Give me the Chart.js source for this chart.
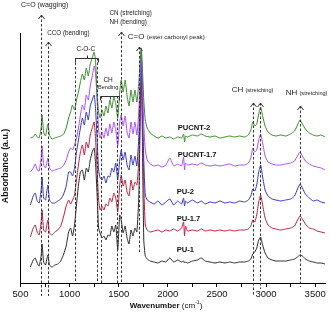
<!DOCTYPE html>
<html>
<head>
<meta charset="utf-8">
<script src="https://cdn.jsdelivr.net/npm/chart.js@4.4.1/dist/chart.umd.min.js"></script>
<style>
  html, body { margin: 0; padding: 0; background: #fff; }
  canvas { display: block; }
</style>
</head>
<body>
<canvas id="ftirChart" width="331" height="323"></canvas>
<script>
// wavenumber grid (cm-1), shared by all spectra
const wavenumber = [
  600, 630, 650, 670, 690, 710, 720, 735, 755, 770,
  780, 795, 820, 850, 880, 910, 940, 965, 990, 1010,
  1030, 1050, 1070, 1090, 1110, 1130, 1150, 1170, 1190, 1210,
  1230, 1250, 1265, 1280, 1295, 1310, 1330, 1350, 1370, 1390,
  1410, 1430, 1450, 1470, 1490, 1510, 1525, 1545, 1565, 1585,
  1605, 1625, 1645, 1665, 1685, 1705, 1720, 1730, 1742, 1755,
  1770, 1790, 1820, 1860, 1900, 1940, 1980, 2020, 2060, 2100,
  2140, 2160, 2170, 2180, 2200, 2250, 2300, 2340, 2380, 2430,
  2480, 2530, 2580, 2630, 2680, 2730, 2780, 2820, 2845, 2865,
  2885, 2905, 2925, 2945, 2965, 2990, 3020, 3060, 3100, 3150,
  3200, 3250, 3290, 3320, 3345, 3370, 3400, 3440, 3480, 3520,
  3560, 3600
];

// absorbance (a.u., stacked offsets as in the figure)
const pucnt2 = [
  145, 146, 149, 146, 145, 155, 168, 151, 147, 155,
  159, 148, 144, 145, 146, 147, 149, 155, 165, 171,
  178, 173, 183, 191, 201, 209, 203, 215, 207, 219,
  225, 231, 221, 188, 171, 165, 173, 167, 177, 170,
  183, 175, 186, 179, 165, 191, 203, 191, 203, 187,
  177, 193, 181, 193, 181, 201, 225, 235, 213, 183,
  163, 155, 150, 147, 145, 147, 145, 146, 144, 146,
  145, 149, 141, 147, 146, 148, 147, 149, 147, 146,
  147, 145, 146, 147, 146, 147, 146, 148, 153, 161,
  157, 159, 169, 176, 167, 157, 151, 148, 147, 148,
  147, 149, 152, 158, 163, 159, 154, 150, 148, 147,
  148, 146
];
const pucnt17 = [
  111, 115, 119, 113, 112, 125, 137, 118, 115, 121,
  125, 115, 112, 113, 114, 115, 118, 123, 131, 135,
  133, 138, 145, 155, 168, 178, 173, 188, 183, 197,
  207, 217, 209, 183, 153, 145, 151, 145, 155, 147,
  159, 150, 161, 153, 137, 161, 168, 157, 167, 151,
  145, 161, 149, 161, 148, 173, 211, 229, 198, 158,
  133, 123, 119, 117, 118, 116, 118, 125, 117, 119,
  117, 126, 113, 120, 118, 119, 118, 120, 118, 117,
  118, 117, 118, 119, 117, 118, 118, 120, 125, 135,
  131, 133, 143, 149, 140, 127, 121, 119, 118, 118,
  119, 120, 122, 127, 131, 127, 122, 119, 117, 116,
  115, 113
];
const pu2 = [
  78, 87, 90, 82, 80, 93, 106, 85, 83, 93,
  98, 83, 80, 80, 82, 84, 89, 97, 111, 111,
  107, 115, 131, 143, 155, 165, 158, 171, 163, 177,
  183, 188, 173, 143, 113, 105, 103, 107, 100, 107,
  106, 115, 111, 120, 103, 123, 133, 123, 131, 118,
  113, 128, 118, 127, 117, 148, 198, 221, 173, 123,
  88, 83, 81, 79, 82, 78, 81, 84, 78, 82,
  79, 85, 77, 82, 80, 83, 80, 82, 79, 81,
  80, 82, 80, 81, 80, 82, 81, 83, 87, 94,
  92, 98, 111, 118, 106, 93, 87, 84, 83, 82,
  83, 84, 87, 94, 99, 95, 89, 85, 82, 83,
  81, 80
];
const pu17 = [
  46, 55, 58, 51, 48, 61, 73, 53, 51, 59,
  63, 50, 48, 51, 53, 57, 67, 77, 83, 79,
  83, 88, 103, 118, 131, 138, 128, 141, 135, 148,
  155, 161, 143, 113, 83, 73, 77, 73, 79, 77,
  85, 81, 90, 85, 71, 98, 108, 97, 103, 91,
  87, 103, 93, 101, 98, 123, 178, 211, 163, 98,
  58, 53, 51, 52, 53, 51, 53, 52, 54, 52,
  55, 61, 47, 57, 52, 53, 52, 54, 52, 53,
  52, 53, 52, 53, 52, 53, 53, 54, 57, 63,
  61, 68, 81, 88, 78, 65, 58, 55, 54, 53,
  54, 55, 57, 63, 67, 64, 59, 55, 54, 52,
  51, 50
];
const pu1 = [
  16, 23, 25, 20, 17, 27, 39, 21, 18, 25,
  28, 18, 16, 18, 19, 22, 29, 37, 51, 55,
  47, 58, 78, 98, 111, 113, 103, 115, 111, 123,
  131, 135, 118, 88, 55, 50, 45, 47, 43, 48,
  47, 57, 51, 58, 33, 68, 63, 50, 57, 45,
  39, 53, 47, 55, 51, 88, 173, 233, 133, 43,
  27, 24, 22, 21, 20, 22, 21, 25, 21, 23,
  21, 22, 20, 21, 20, 22, 23, 25, 22, 21,
  20, 21, 20, 21, 20, 21, 21, 22, 24, 29,
  31, 35, 43, 46, 38, 30, 25, 23, 22, 22,
  22, 23, 24, 26, 28, 27, 24, 22, 21, 20,
  20, 19
];

const xTicks = [500, 750, 1000, 1250, 1500, 1750, 2000, 2250, 2500, 2750, 3000, 3250, 3500];

const seriesNames = ["PUCNT-2", "PUCNT-1.7", "PU-2", "PU-1.7", "PU-1"];
const seriesData = [pucnt2, pucnt17, pu2, pu17, pu1];
const seriesColors = ["#3b8a2c", "#a64dff", "#3535c8", "#bf1e3c", "#2a2a2a"];
// where the series names sit (wavenumber, absorbance)
const seriesLabelWn = [2100, 2100, 2090, 2090, 2090];
const seriesLabelY = [155, 128, 91, 64, 33];

// dashed band markers
const markWn = [713, 775, 1051, 1282, 1319, 1485, 1520, 1710, 2863, 2942, 3343];
const markTop = [268, 241, 225, 225, 187, 187, 251, 236, 180, 180, 177];
const markBottom = [-13, -13, 0, 0, 0, 0, 0, 30, -13, -6, -4];
const arrowWn = [713, 775, 1520, 1710, 2863, 2942, 3343];
const arrowTop = [268, 241, 251, 236, 180, 180, 177];

const FONT = "'Liberation Sans', Arial, sans-serif";

const datasets = seriesData.map((vals, i) => ({
  label: seriesNames[i],
  data: wavenumber.map((w, j) => ({ x: w, y: vals[j] })),
  borderColor: seriesColors[i],
  borderWidth: 1,
  pointRadius: 0,
  tension: 0.15,
  fill: false,
}));

const annotations = {
  id: "annotations",
  afterDraw(chart) {
    const ctx = chart.ctx;
    const x = chart.scales.x;
    const y = chart.scales.y;
    ctx.save();
    ctx.strokeStyle = "#333";
    ctx.lineWidth = 1;

    // dashed lines
    ctx.setLineDash([2.5, 2]);
    markWn.forEach((w, i) => {
      const px = Math.round(x.getPixelForValue(w)) + 0.5;
      ctx.beginPath();
      ctx.moveTo(px, y.getPixelForValue(markTop[i]));
      ctx.lineTo(px, y.getPixelForValue(markBottom[i]));
      ctx.stroke();
    });
    ctx.setLineDash([]);

    // arrow heads
    arrowWn.forEach((w, i) => {
      const px = Math.round(x.getPixelForValue(w)) + 0.5;
      const py = y.getPixelForValue(arrowTop[i]);
      ctx.beginPath();
      ctx.moveTo(px - 3, py + 4);
      ctx.lineTo(px, py);
      ctx.lineTo(px + 3, py + 4);
      ctx.stroke();
    });

    // brackets: C-O-C and CH bending
    const bracket = (w0, w1, v, tickDir) => {
      const x0 = Math.round(x.getPixelForValue(w0)) + 0.5;
      const x1 = Math.round(x.getPixelForValue(w1)) + 0.5;
      const py = Math.round(y.getPixelForValue(v)) + 0.5;
      const xm = Math.round((x0 + x1) / 2) + 0.5;
      ctx.beginPath();
      ctx.moveTo(x0, py + 4);
      ctx.lineTo(x0, py);
      ctx.lineTo(x1, py);
      ctx.lineTo(x1, py + 4);
      ctx.moveTo(xm, py);
      ctx.lineTo(xm, py + 3 * tickDir);
      ctx.stroke();
    };
    bracket(1051, 1290, 225, -1);
    bracket(1310, 1500, 187, 1);

    // texts
    ctx.fillStyle = "#222";
    ctx.textBaseline = "middle";
    const txt = (s, w, v, size, align, weight) => {
      ctx.font = (weight || "") + " " + size + "px " + FONT;
      ctx.textAlign = align || "left";
      ctx.fillText(s, x.getPixelForValue(w), y.getPixelForValue(v));
    };
    txt("C=O (wagging)", 505, 278, 7);
    txt("CCO (bending)", 772, 250, 6.3);
    txt("C-O-C", 1165, 234, 6.5, "center");
    txt("CH", 1392, 203, 6.5, "center");
    txt("Bending", 1392, 195.5, 5.5, "center");
    txt("CN (stretching)", 1405, 270, 6.3);
    txt("NH (bending)", 1405, 261, 6.3);

    // label with a larger lead word, e.g. "C=O (ester carbonyl peak)"
    const twoPart = (big, small, w, v, bigSize, smallSize) => {
      ctx.textAlign = "left";
      ctx.font = bigSize + "px " + FONT;
      let p = x.getPixelForValue(w);
      const q = y.getPixelForValue(v);
      ctx.fillText(big, p, q);
      p += ctx.measureText(big + " ").width;
      ctx.font = smallSize + "px " + FONT;
      ctx.fillText(small, p, q + 0.5);
    };
    twoPart("C=O", "(ester carbonyl peak)", 1592, 246, 8, 6.2);
    twoPart("CH", "(stretching)", 2650, 193, 8, 5.6);
    twoPart("NH", "(stretching)", 3200, 190, 8, 5.6);

    // series names
    ctx.fillStyle = "#111";
    seriesNames.forEach((n, i) => {
      txt(n, seriesLabelWn[i], seriesLabelY[i], 7.6, "left", "bold");
    });

    // axis titles
    ctx.save();
    ctx.translate(6, (chart.chartArea.top + chart.chartArea.bottom) / 2 + 8);
    ctx.rotate(-Math.PI / 2);
    ctx.font = "bold 8.8px " + FONT;
    ctx.textAlign = "center";
    ctx.fillText("Absorbance (a.u.)", 0, 0);
    ctx.restore();

    const cx = 166;
    const ty = 306;
    const fB = "bold 8px " + FONT;
    const fN = "8px " + FONT;
    const fS = "5px " + FONT;
    ctx.font = fB; const w1 = ctx.measureText("Wavenumber ").width;
    ctx.font = fN; const w2 = ctx.measureText("(cm").width;
    ctx.font = fS; const w3 = ctx.measureText("-1").width;
    ctx.font = fN; const w4 = ctx.measureText(")").width;
    let sx = cx - (w1 + w2 + w3 + w4) / 2;
    ctx.textAlign = "left";
    ctx.font = fB; ctx.fillText("Wavenumber ", sx, ty); sx += w1;
    ctx.font = fN; ctx.fillText("(cm", sx, ty); sx += w2;
    ctx.font = fS; ctx.fillText("-1", sx, ty - 3); sx += w3;
    ctx.font = fN; ctx.fillText(")", sx, ty);

    ctx.restore();
  },
};

new Chart(document.getElementById("ftirChart").getContext("2d"), {
  type: "line",
  data: { datasets: datasets },
  options: {
    responsive: false,
    devicePixelRatio: 1,
    animation: false,
    layout: { padding: { left: 20.5, right: 6, top: 33, bottom: 0 } },
    plugins: { legend: { display: false }, tooltip: { enabled: false } },
    scales: {
      x: {
        type: "linear",
        min: 500,
        max: 3600,
        afterBuildTicks: (scale) => {
          scale.ticks = xTicks.map((v) => ({ value: v }));
        },
        afterFit: (scale) => { scale.height = 40; },
        border: { display: true, color: "#000", width: 1 },
        grid: { drawOnChartArea: false, drawTicks: true, tickLength: 4, color: "#000" },
        ticks: {
          autoSkip: false,
          maxRotation: 0,
          padding: 2,
          color: "#111",
          font: { family: FONT, size: 9.5 },
          callback: (v) => (v % 500 === 0 ? String(v) : ""),
        },
      },
      y: {
        min: 0,
        max: 250,
        afterFit: (scale) => { scale.width = 0; },
        border: { display: true, color: "#000", width: 1 },
        grid: { display: false },
        ticks: { display: false },
      },
    },
  },
  plugins: [annotations],
});
</script>
</body>
</html>
